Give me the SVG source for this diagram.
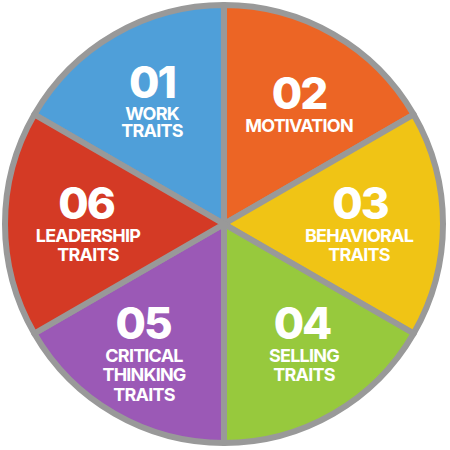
<svg xmlns="http://www.w3.org/2000/svg" width="450" height="450" viewBox="0 0 450 450">
<style>
.s{stroke:#999;stroke-width:6;stroke-linejoin:round}
.n{font-family:Inter,"Open Sans","Liberation Sans",sans-serif;font-weight:800;font-size:44px;fill:#fff;text-anchor:middle;letter-spacing:-2px}
.l{font-family:Inter,"Open Sans","Liberation Sans",sans-serif;font-weight:700;font-size:18px;fill:#fff;text-anchor:middle;letter-spacing:-0.8px}
</style>
<rect width="450" height="450" fill="#fff"/>
<g id="n1">
<path class="s" fill="#4F9FD9" d="M224,224 L224,5 A219,219 0 0 0 34.34,114.5 Z"/>
<text class="n" x="152" y="98">01</text>
<text class="l" x="152" y="120">WORK</text>
<text class="l" x="152" y="137">TRAITS</text>
</g>
<g id="n2">
<path class="s" fill="#EC6525" d="M224,224 L413.66,114.5 A219,219 0 0 0 224,5 Z"/>
<text class="n" x="299" y="109">02</text>
<text class="l" x="299" y="132">MOTIVATION</text>
</g>
<g id="n3">
<path class="s" fill="#F0C415" d="M224,224 L413.66,333.5 A219,219 0 0 0 413.66,114.5 Z"/>
<text class="n" x="360" y="219">03</text>
<text class="l" x="359" y="242">BEHAVIORAL</text>
<text class="l" x="359" y="261">TRAITS</text>
</g>
<g id="n4">
<path class="s" fill="#97C93D" d="M224,224 L224,443 A219,219 0 0 0 413.66,333.5 Z"/>
<text class="n" x="302" y="339">04</text>
<text class="l" x="304" y="362">SELLING</text>
<text class="l" x="304" y="381">TRAITS</text>
</g>
<g id="n5">
<path class="s" fill="#9B59B6" d="M224,224 L34.34,333.5 A219,219 0 0 0 224,443 Z"/>
<text class="n" x="143" y="339">05</text>
<text class="l" x="144" y="362">CRITICAL</text>
<text class="l" x="144" y="381">THINKING</text>
<text class="l" x="144" y="401">TRAITS</text>
</g>
<g id="n6">
<path class="s" fill="#D43A25" d="M224,224 L34.34,114.5 A219,219 0 0 0 34.34,333.5 Z"/>
<text class="n" x="86" y="219">06</text>
<text class="l" x="88" y="242">LEADERSHIP</text>
<text class="l" x="88" y="261">TRAITS</text>
</g>
</svg>
